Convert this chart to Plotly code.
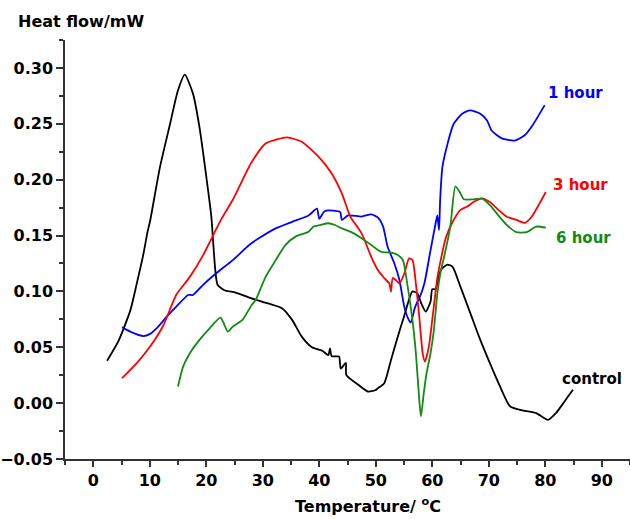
import plotly.graph_objects as go

# ---- data (Temperature / °C, Heat flow / mW) ----
control_T = [2.45, 4.5, 6.56, 7.7, 8.9, 9.6, 10.06, 11.8, 13.6, 15.0, 16.2, 17.65, 18.8, 20.0, 20.9, 21.2, 21.6, 22.0, 23.2, 25.2, 27.9, 31.1, 33.4, 35.2, 36.9, 38.7, 40.5, 41.6, 41.9, 42.2, 43.5, 43.8, 44.7, 44.8, 46.9, 48.6, 49.9, 50.4, 51.5, 52.7, 53.9, 55.0, 56.5, 57.4, 58.0, 58.85, 59.7, 60.0, 60.6, 61.5, 62.7, 63.6, 65.0, 66.7, 68.5, 70.2, 72.0, 73.8, 76.1, 78.4, 80.5, 81.9, 83.4, 84.9]
control_HF = [0.038, 0.056, 0.083, 0.107, 0.134, 0.153, 0.163, 0.211, 0.250, 0.280, 0.294, 0.277, 0.247, 0.203, 0.167, 0.146, 0.119, 0.106, 0.101, 0.099, 0.094, 0.089, 0.085, 0.0745, 0.0595, 0.050, 0.047, 0.043, 0.049, 0.042, 0.0417, 0.031, 0.036, 0.025, 0.0164, 0.0104, 0.0115, 0.0134, 0.0179, 0.0387, 0.0595, 0.0774, 0.100, 0.098, 0.090, 0.082, 0.091, 0.102, 0.102, 0.119, 0.124, 0.122, 0.104, 0.081, 0.0566, 0.0358, 0.0149, -0.003, -0.0066, -0.0089, -0.015, -0.0089, 0.0014, 0.0119]

h1_T = [5.1, 6.55, 8.9, 10.06, 11.5, 13.0, 14.7, 16.8, 17.65, 19.4, 21.7, 24.7, 27.6, 29.3, 32.3, 35.2, 38.1, 39.6, 40.0, 41.0, 43.7, 44.0, 45.1, 47.5, 49.2, 50.4, 51.3, 52.1, 53.3, 54.2, 55.05, 55.7, 56.2, 56.9, 57.4, 57.8, 58.6, 59.7, 60.6, 60.9, 61.2, 61.4, 61.8, 62.7, 63.8, 65.3, 66.7, 68.5, 69.7, 70.5, 72.3, 74.6, 76.4, 77.8, 79.9]
h1_HF = [0.068, 0.064, 0.060, 0.062, 0.0685, 0.0774, 0.0864, 0.0968, 0.0968, 0.1057, 0.116, 0.128, 0.1415, 0.1475, 0.1564, 0.1623, 0.168, 0.174, 0.165, 0.172, 0.171, 0.164, 0.168, 0.167, 0.169, 0.166, 0.158, 0.140, 0.125, 0.110, 0.0864, 0.076, 0.072, 0.085, 0.091, 0.095, 0.107, 0.137, 0.161, 0.168, 0.155, 0.182, 0.2115, 0.232, 0.250, 0.259, 0.262, 0.259, 0.253, 0.244, 0.237, 0.235, 0.240, 0.249, 0.2667]

h3_T = [5.1, 7.7, 10.06, 12.4, 14.7, 17.1, 19.4, 22.6, 24.7, 27.9, 30.5, 32.5, 34.3, 36.9, 39.9, 42.2, 44.0, 45.5, 47.5, 49.2, 50.4, 51.5, 52.4, 52.7, 53.0, 53.6, 54.2, 55.05, 55.9, 56.5, 57.1, 57.7, 58.3, 58.7, 59.4, 60.0, 60.9, 61.5, 62.4, 63.8, 65.0, 66.2, 67.3, 68.8, 70.2, 71.7, 73.2, 74.9, 76.4, 77.6, 79.0, 80.1]
h3_HF = [0.0223, 0.0358, 0.0506, 0.0695, 0.097, 0.113, 0.132, 0.164, 0.182, 0.2145, 0.2324, 0.236, 0.2378, 0.234, 0.2204, 0.2056, 0.1877, 0.167, 0.152, 0.131, 0.119, 0.112, 0.107, 0.0998, 0.112, 0.110, 0.107, 0.116, 0.1296, 0.128, 0.107, 0.0774, 0.0447, 0.0372, 0.0506, 0.0745, 0.112, 0.128, 0.148, 0.164, 0.173, 0.176, 0.180, 0.1833, 0.180, 0.173, 0.1668, 0.164, 0.1614, 0.1668, 0.1788, 0.189]

h6_T = [15.0, 15.9, 17.1, 18.8, 20.6, 22.5, 23.1, 23.8, 24.7, 26.4, 28.05, 28.75, 30.5, 32.3, 34.0, 35.8, 38.1, 39.0, 40.15, 41.6, 42.8, 44.0, 45.7, 47.5, 49.2, 50.9, 52.7, 53.9, 54.8, 55.6, 56.5, 57.1, 57.7, 58.0, 58.5, 59.0, 59.7, 60.3, 60.9, 61.5, 62.1, 63.2, 64.1, 65.0, 65.6, 67.3, 68.8, 70.2, 71.7, 73.2, 74.9, 76.7, 78.4, 80.1]
h6_HF = [0.0149, 0.0327, 0.0447, 0.0566, 0.067, 0.0765, 0.0715, 0.064, 0.0685, 0.0745, 0.0879, 0.0923, 0.113, 0.128, 0.1415, 0.149, 0.1534, 0.158, 0.1594, 0.161, 0.1594, 0.1564, 0.153, 0.1475, 0.1415, 0.1355, 0.1346, 0.1326, 0.128, 0.106, 0.074, 0.0447, 0.003, -0.012, 0.009, 0.027, 0.0447, 0.066, 0.098, 0.118, 0.131, 0.158, 0.194, 0.1877, 0.1824, 0.1824, 0.183, 0.1773, 0.168, 0.1594, 0.153, 0.153, 0.158, 0.157]

series_names = ["control", "1 hour", "3 hour", "6 hour"]
series_colors = ["#000000", "#0000ff", "#ff0000", "#138a13"]

x_ticks = [0, 10, 20, 30, 40, 50, 60, 70, 80, 90]
y_ticks = [-0.05, 0.00, 0.05, 0.10, 0.15, 0.20, 0.25, 0.30]

FONT = "DejaVu Sans, Liberation Sans, Arial"

fig = go.Figure()
for name, color, xs, ys in zip(series_names, series_colors,
                               [control_T, h1_T, h3_T, h6_T],
                               [control_HF, h1_HF, h3_HF, h6_HF]):
    fig.add_trace(go.Scatter(x=xs, y=ys, mode="lines", name=name,
                             line=dict(color=color, width=1.8,
                                       shape="spline", smoothing=0.6),
                             showlegend=False))

# curve labels
label_pos = {"1 hour": (85.4, 0.278), "3 hour": (86.3, 0.195),
             "6 hour": (86.7, 0.148), "control": (88.2, 0.0217)}
for name, color in zip(series_names, series_colors):
    lx, ly = label_pos[name]
    fig.add_annotation(x=lx, y=ly, xref="x", yref="y", text=name,
                       showarrow=False,
                       font=dict(family=FONT, size=15, color=color, weight="bold"))

fig.add_annotation(x=-0.086, y=1.045, xref="paper", yref="paper",
                   text="Heat flow/mW", showarrow=False,
                   xanchor="left", yanchor="middle",
                   font=dict(family=FONT, size=16, color="#000000", weight="bold"))
fig.add_annotation(x=0.536, y=-0.112, xref="paper", yref="paper",
                   text="Temperature/ <sup>o</sup>C", showarrow=False,
                   xanchor="center", yanchor="middle",
                   font=dict(family=FONT, size=16, color="#000000", weight="bold"))

axis_common = dict(showgrid=False, zeroline=False, showline=True,
                   linecolor="#333333", linewidth=1.5,
                   ticks="outside", tickcolor="#333333", tickwidth=1.5,
                   tickfont=dict(family=FONT, size=16, color="#000000", weight="bold"))

fig.update_xaxes(range=[-5, 95], tickvals=x_ticks, ticklen=6,
                 minor=dict(dtick=5, tick0=0, ticks="outside", ticklen=4,
                            tickcolor="#333333", tickwidth=1.5, showgrid=False),
                 **axis_common)
fig.update_yaxes(range=[-0.05, 0.325], tickvals=y_ticks, tickformat=".2f",
                 ticklen=7,
                 minor=dict(dtick=0.025, tick0=0, ticks="outside", ticklen=4,
                            tickcolor="#333333", tickwidth=1.5, showgrid=False),
                 **axis_common)

fig.update_layout(width=630, height=519,
                  margin=dict(l=61, r=0, t=40, b=60),
                  paper_bgcolor="white", plot_bgcolor="white")

fig.write_html("out.html")
